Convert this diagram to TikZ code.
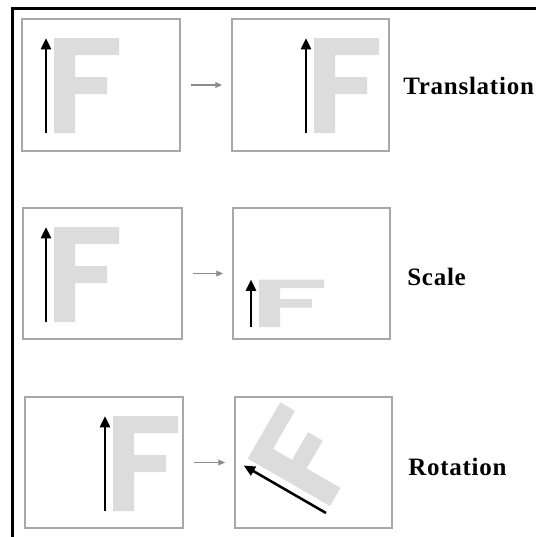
\documentclass[tikz,border=0pt]{standalone}
\usepackage{fontspec}
\setmainfont{Liberation Serif}
\newfontfamily\capfont[LetterSpace=3]{Liberation Serif}
\usetikzlibrary{arrows.meta,fit}

\definecolor{panelgray}{HTML}{A8A8A8}
\definecolor{glyphgray}{HTML}{DCDCDC}
\definecolor{linkgray}{HTML}{8C8C8C}

\tikzset{
  panel/.style={draw=panelgray, line width=1.5pt, fill=white, inner sep=0pt},
  link/.style={draw=linkgray, line width=0.8pt, shorten <=7.5pt, shorten >=6.8pt,
    -{Triangle[width=4.5pt,length=5pt]}},
  vecarrow/.style={draw=black, line width=1.9pt, -{Triangle[width=7.5pt,length=8.5pt]}},
  glyph/.style={fill=glyphgray, draw=none},
  caption/.style={anchor=base west, inner sep=0pt, font=\capfont\fontsize{18.75pt}{20pt}\selectfont\bfseries}
}

% The letter F beside its vector, in local units (vector tail at the origin, y up)
\newcommand{\letterF}{%
  \fill[glyph] (8,0) -- (29,0) -- (29,39) -- (61,39) -- (61,56) -- (29,56)
    -- (29,78) -- (73,78) -- (73,95) -- (8,95) -- cycle;
  \draw[vecarrow] (0,0) -- (0,95);
}

\begin{document}
\begin{tikzpicture}[x=0.75pt, y=-0.75pt]
  \useasboundingbox (0,0) rectangle (536,537);
  \fill[white] (0,0) rectangle (536,537);

  % outer frame (top and left edges only)
  \draw[line width=2.25pt, line join=miter] (12,537) -- (12,8) -- (536,8);

  % translation row
  \node[panel, fit={(22,19) (180,151)}] (b11) {};
  \node[panel, fit={(232,19) (389,151)}] (b12) {};
  \begin{scope}[shift={(46,133)}, yscale=-1] \letterF \end{scope}
  \begin{scope}[shift={(306,133)}, yscale=-1] \letterF \end{scope}
  \draw[link] (b11) -- (b12);
  \node[caption] (t1) at (403,94) {Translation};

  % scale row
  \node[panel, fit={(23,208) (182,339)}] (b21) {};
  \node[panel, fit={(233,208) (390,339)}] (b22) {};
  \begin{scope}[shift={(46,322)}, yscale=-1] \letterF \end{scope}
  \begin{scope}[shift={(251,327)}, yscale=-0.5] \letterF \end{scope}
  \draw[link] (b21) -- (b22);
  \node[caption] (t2) at (407,285) {Scale};

  % rotation row
  \node[panel, fit={(25,397) (183,528)}] (b31) {};
  \node[panel, fit={(235,397) (392,528)}] (b32) {};
  \begin{scope}[shift={(105,511)}, yscale=-1] \letterF \end{scope}
  \begin{scope}[shift={(326,513)}, yscale=-1, rotate=-60] \letterF \end{scope}
  \draw[link] (b31) -- (b32);
  \node[caption] (t3) at (408,475) {Rotation};
\end{tikzpicture}
\end{document}
